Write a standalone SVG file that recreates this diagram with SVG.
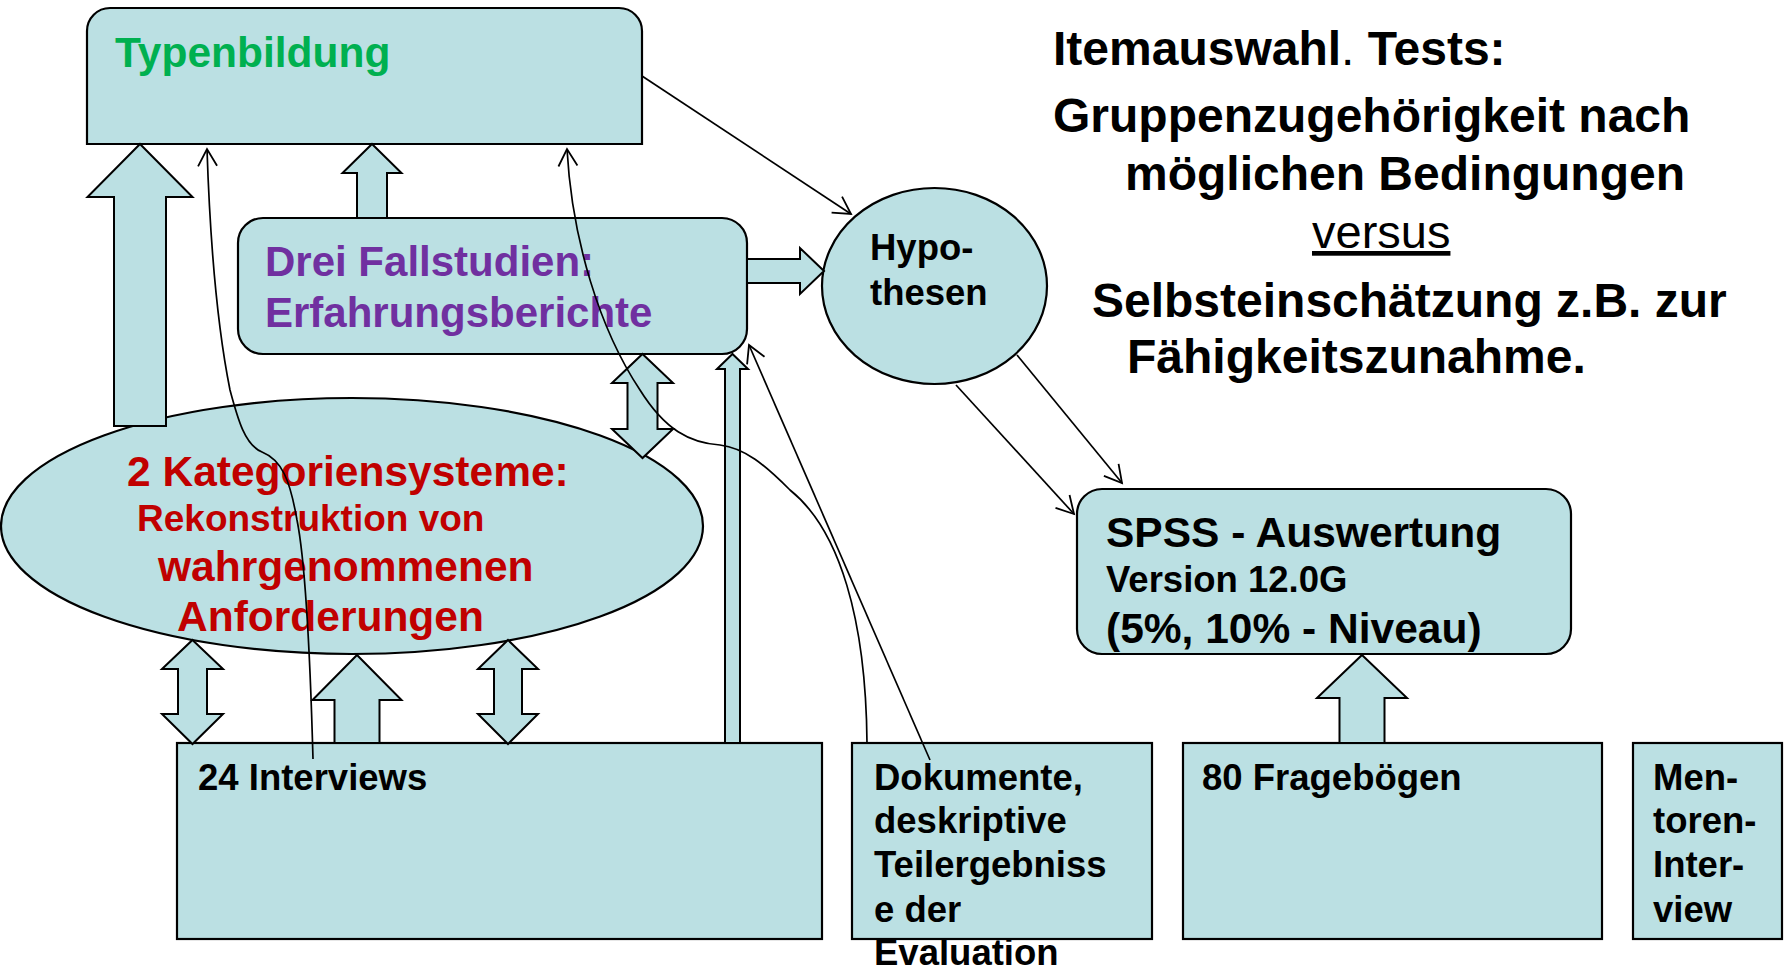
<svg xmlns="http://www.w3.org/2000/svg" width="1785" height="971" viewBox="0 0 1785 971">
<style>
.n{fill:#BBE0E3;stroke:#000;stroke-width:2.2}
.b{fill:#BBE0E3;stroke:#000;stroke-width:2}
.c{fill:none;stroke:#000;stroke-width:1.7}
text{font-family:"Liberation Sans",Arial,sans-serif;font-weight:bold;fill:#000}
text.reg{font-weight:normal}
.g{fill:#00B050}
.p{fill:#7030A0}
.r{fill:#C00000}
</style>
<defs>
<marker id="ah" markerUnits="userSpaceOnUse" markerWidth="40" markerHeight="40" viewBox="-20 -20 40 40" refX="0" refY="0" orient="auto">
<path d="M-17,-9.5 L0,0 L-17,9.5" fill="none" stroke="#000" stroke-width="1.8"/>
</marker>
</defs>
<rect width="1785" height="971" fill="#fff"/>

<g id="typenbildung">
<path class="n" d="M87,144 V31 A23,23 0 0 1 110,8 H619 A23,23 0 0 1 642,31 V144 Z"/>
<text x="115" y="67" font-size="42.5" class="g">Typenbildung</text>
</g>

<g id="fallstudien">
<rect class="n" x="238" y="218" width="509" height="136" rx="25"/>
<text x="265" y="276" font-size="42" class="p">Drei Fallstudien:</text>
<text x="265" y="327" font-size="42" class="p">Erfahrungsberichte</text>
</g>

<g id="hypothesen">
<ellipse class="n" cx="934.5" cy="286" rx="112.5" ry="98"/>
<text x="870" y="260" font-size="36.5">Hypo-</text>
<text x="870" y="305" font-size="36.5">thesen</text>
</g>

<g id="kategorien">
<ellipse class="n" cx="352" cy="526" rx="351" ry="128"/>
<text x="127" y="486" font-size="42.5" class="r">2 Kategoriensysteme:</text>
<text x="137" y="531" font-size="37" class="r">Rekonstruktion von</text>
<text x="158" y="581" font-size="42.5" class="r">wahrgenommenen</text>
<text x="177" y="631" font-size="42.5" class="r">Anforderungen</text>
</g>

<g id="spss">
<rect class="n" x="1077" y="489" width="494" height="165" rx="25"/>
<text x="1106" y="547" font-size="42.5">SPSS - Auswertung</text>
<text x="1106" y="592" font-size="36.5">Version 12.0G</text>
<text x="1106" y="643" font-size="42.5">(5%, 10% - Niveau)</text>
</g>

<g id="interviews">
<rect class="n" x="177" y="743" width="645" height="196"/>
<text x="198" y="790" font-size="36.5">24 Interviews</text>
</g>

<g id="dokumente">
<rect class="n" x="852" y="743" width="300" height="196"/>
<text x="874" y="790" font-size="36.5">Dokumente,</text>
<text x="874" y="833" font-size="36.5">deskriptive</text>
<text x="874" y="877" font-size="36.5">Teilergebniss</text>
<text x="874" y="922" font-size="36.5">e der</text>
<text x="874" y="965" font-size="36.5">Evaluation</text>
</g>

<g id="frageboegen">
<rect class="n" x="1183" y="743" width="419" height="196"/>
<text x="1202" y="790" font-size="36.5">80 Fragebögen</text>
</g>

<g id="mentoren">
<rect class="n" x="1633" y="743" width="149" height="196"/>
<text x="1653" y="790" font-size="36.5">Men-</text>
<text x="1653" y="833" font-size="36.5">toren-</text>
<text x="1653" y="877" font-size="36.5">Inter-</text>
<text x="1653" y="922" font-size="36.5">view</text>
</g>

<g id="tests">
<text x="1053" y="65" font-size="48">Itemauswahl<tspan font-weight="normal">.</tspan> Tests:</text>
<text x="1053" y="132" font-size="48">Gruppenzugehörigkeit nach</text>
<text x="1125" y="190" font-size="48">möglichen Bedingungen</text>
<text x="1312" y="248" font-size="47" class="reg" text-decoration="underline">versus</text>
<text x="1092" y="317" font-size="48">Selbsteinschätzung z.B. zur</text>
<text x="1127" y="373" font-size="48">Fähigkeitszunahme.</text>
</g>

<g id="connectors">
<path class="b" d="M140,144 L192.5,197 L166,197 L166,426 L114,426 L114,197 L87.5,197 Z"/>
<path class="b" d="M372,144 L401.5,173 L387,173 L387,218 L357,218 L357,173 L342.5,173 Z"/>
<path class="b" d="M824,271 L800,248 L800,259 L747,259 L747,283 L800,283 L800,294 Z"/>
<path class="b" d="M642.5,354 L673,383 L657.5,383 L657.5,429 L673,429 L642.5,458 L612,429 L627.5,429 L627.5,383 L612,383 Z"/>
<path class="b" d="M732.5,354 L748,369 L740,369 L740,743 L725,743 L725,369 L717,369 Z"/>
<path class="b" d="M192.5,640 L223,669 L207,669 L207,714 L223,714 L192.5,744 L162,714 L178,714 L178,669 L162,669 Z"/>
<path class="b" d="M357,655 L401.5,700 L379.5,700 L379.5,743 L334.5,743 L334.5,700 L312.5,700 Z"/>
<path class="b" d="M508,640 L538,669 L522,669 L522,714 L538,714 L508,744 L478,714 L494,714 L494,669 L478,669 Z"/>
<path class="b" d="M1362,655 L1407,698 L1384.5,698 L1384.5,743 L1339.5,743 L1339.5,698 L1317,698 Z"/>
<line class="c" x1="642" y1="76" x2="851" y2="214" marker-end="url(#ah)"/>
<line class="c" x1="956" y1="385" x2="1074" y2="514" marker-end="url(#ah)"/>
<line class="c" x1="1017" y1="355" x2="1122" y2="483" marker-end="url(#ah)"/>
<line class="c" x1="930" y1="760" x2="749" y2="345" marker-end="url(#ah)"/>
<path class="c" d="M313,759 C310,650 305,560 297,520 C290,480 282,460 262,452 C245,445 238,420 230,390 C218,330 210,240 207,149" marker-end="url(#ah)"/>
<path class="c" d="M867,743 C866,620 840,530 790,490 C765,465 745,448 720,445 C690,443 665,430 640,390 C600,330 572,240 567,149" marker-end="url(#ah)"/>
</g>
</svg>
